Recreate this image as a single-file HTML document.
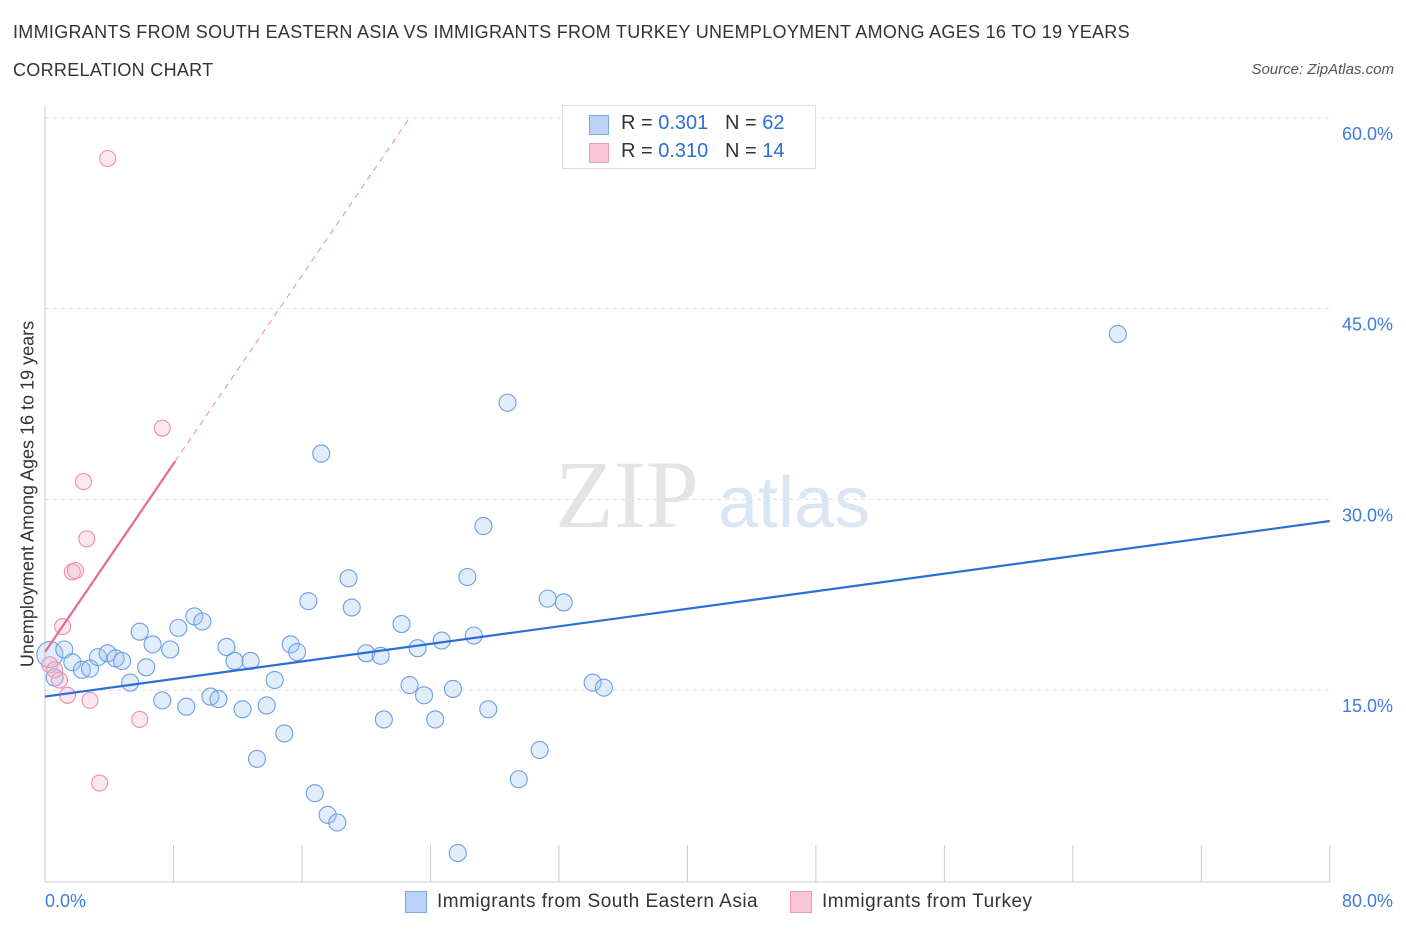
<!DOCTYPE html>
<html><head><meta charset="utf-8">
<style>
body{margin:0;background:#fff;font-family:"Liberation Sans",sans-serif;}
#wrap{position:relative;width:1406px;height:930px;overflow:hidden;}
.t{position:absolute;white-space:nowrap;}
</style></head>
<body>
<div id="wrap">
<div class="t" style="left:13px;top:22px;font-size:18px;color:#333;letter-spacing:0.3px;">IMMIGRANTS FROM SOUTH EASTERN ASIA VS IMMIGRANTS FROM TURKEY UNEMPLOYMENT AMONG AGES 16 TO 19 YEARS</div>
<div class="t" style="left:13px;top:60px;font-size:18px;color:#333;letter-spacing:0.3px;">CORRELATION CHART</div>
<div class="t" style="right:12px;top:61px;font-size:15px;color:#555;font-style:italic;">Source: ZipAtlas.com</div>
<svg id="svg" width="1406" height="930" style="position:absolute;left:0;top:0"></svg>
</div>
<script>
const blueX=[0.3,1.2,1.7,2.3,2.8,3.3,3.9,4.4,4.8,5.3,5.9,6.3,6.7,7.3,7.8,8.3,8.8,9.3,9.8,10.3,10.8,11.3,11.8,12.3,12.8,13.2,13.8,14.3,14.9,15.3,15.7,16.4,16.8,17.2,17.6,18.2,18.9,19.1,20.0,20.9,21.1,22.2,22.7,23.2,23.6,24.3,24.7,25.4,25.7,26.3,26.7,27.3,27.6,28.8,29.5,30.8,31.3,32.3,34.1,34.8,66.8,0.6];
const blueY=[17.8,18.2,17.2,16.6,16.7,17.6,17.9,17.5,17.3,15.6,19.6,16.8,18.6,14.2,18.2,19.9,13.7,20.8,20.4,14.5,14.3,18.4,17.3,13.5,17.3,9.6,13.8,15.8,11.6,18.6,18.0,22.0,6.9,33.6,5.2,4.6,23.8,21.5,17.9,17.7,12.7,20.2,15.4,18.3,14.6,12.7,18.9,15.1,2.2,23.9,19.3,27.9,13.5,37.6,8.0,10.3,22.2,21.9,15.6,15.2,43.0,16.0];
const pinkX=[3.9,7.3,2.4,2.6,1.7,1.9,1.1,0.3,0.6,0.9,1.4,2.8,5.9,3.4];
const pinkY=[56.8,35.6,31.4,26.9,24.3,24.4,20.0,17.0,16.6,15.8,14.6,14.2,12.7,7.7];
const yTicks=[15,30,45,60];
const yTickLabels=["15.0%","30.0%","45.0%","60.0%"];
const blueTrend=[14.5,28.3];
const pinkTrend=[18.0,1.85];

const X=v=>45+v*16.06, Y=v=>881-v*12.72;
const svg=document.getElementById('svg');
const NS='http://www.w3.org/2000/svg';
function mk(tag,attrs,parent){const e=document.createElementNS(NS,tag);for(const k in attrs)e.setAttribute(k,attrs[k]);(parent||svg).appendChild(e);return e;}

yTicks.forEach((t,i)=>{
  const g=mk('line',{x1:45,x2:1330,y1:Y(t),y2:Y(t),stroke:'#ddd','stroke-dasharray':'4,4'});
  
  
  const tx=mk('text',{x:1393,y:Y(t)+22,'text-anchor':'end','font-size':18,fill:'#3d7be0','font-family':'Liberation Sans, sans-serif'});
  tx.textContent=yTickLabels[i];
  
  
});
let a=mk('line',{x1:45,x2:45,y1:105,y2:882,stroke:'#ccc'});


a=mk('line',{x1:45,x2:1330,y1:882,y2:882,stroke:'#ccc'});


for(let i=0;i<=10;i++){const tk=mk('line',{x1:X(i*8),x2:X(i*8),y1:845,y2:882,stroke:'#ccc'});

}

let wm=mk('text',{x:555,y:527,'font-size':96,fill:'#e4e4e4','font-family':'Liberation Serif, serif'});wm.textContent='ZIP';


wm=mk('text',{x:718,y:527,'font-size':72,fill:'#dbe6f5','font-family':'Liberation Sans, sans-serif'});wm.textContent='atlas';



blueX.forEach((x,i)=>{const c=mk('circle',{cx:X(x),cy:Y(blueY[i]),r:i===0?13:8.5,fill:'rgba(160,197,243,0.3)',stroke:'#6b9fe3','stroke-width':1.1});

});
pinkX.forEach((x,i)=>{const c=mk('circle',{cx:X(x),cy:Y(pinkY[i]),r:8,fill:'rgba(245,175,198,0.3)',stroke:'#ee8fb0','stroke-width':1.1});

});

let l=mk('line',{x1:X(0),y1:Y(blueTrend[0]),x2:X(80),y2:Y(blueTrend[1]),stroke:'#2b6fd6','stroke-width':2.2});


const pEnd=(60-pinkTrend[0])/pinkTrend[1];
l=mk('line',{x1:X(8.1),y1:Y(pinkTrend[0]+pinkTrend[1]*8.1),x2:X(pEnd),y2:Y(60),stroke:'#e88aa8','stroke-width':1,'stroke-dasharray':'6,5'});


l=mk('line',{x1:X(0),y1:Y(pinkTrend[0]),x2:X(8.1),y2:Y(pinkTrend[0]+pinkTrend[1]*8.1),stroke:'#e8688f','stroke-width':2.2});


</script>
<div class="t" style="left:45px;top:891px;font-size:18px;color:#3d7be0;">0.0%</div>
<div class="t" style="right:13px;top:891px;font-size:18px;color:#3d7be0;">80.0%</div>
<div class="t" style="top:494px;font-size:18px;color:#333;transform:translate(-50%,-50%) rotate(-90deg);left:28px;">Unemployment Among Ages 16 to 19 years</div>
<div style="position:absolute;left:562px;top:105px;width:252px;height:62px;border:1px solid #ddd;background:#fff;font-size:20px;color:#333;">
 <div style="position:absolute;left:26px;top:9px;width:18px;height:18px;background:#b9d2f5;border:1px solid #7aa7e6;"></div>
 <div class="t" style="left:58px;top:6px;">R = <span style="color:#2b6fd6">0.301</span>&nbsp;&nbsp;&nbsp;N = <span style="color:#2b6fd6">62</span></div>
 <div style="position:absolute;left:26px;top:37px;width:18px;height:18px;background:#f8c6d6;border:1px solid #ee99b5;"></div>
 <div class="t" style="left:58px;top:34px;">R = <span style="color:#2b6fd6">0.310</span>&nbsp;&nbsp;&nbsp;N = <span style="color:#2b6fd6">14</span></div>
</div>
<div style="position:absolute;left:405px;top:891px;width:20px;height:20px;background:#b9d2f5;border:1px solid #7aa7e6;"></div>
<div class="t" style="left:437px;top:891px;font-size:19px;color:#333;letter-spacing:0.5px;">Immigrants from South Eastern Asia</div>
<div style="position:absolute;left:790px;top:891px;width:20px;height:20px;background:#f8c6d6;border:1px solid #ee99b5;"></div>
<div class="t" style="left:822px;top:891px;font-size:19px;color:#333;letter-spacing:0.5px;">Immigrants from Turkey</div>
</body></html>
